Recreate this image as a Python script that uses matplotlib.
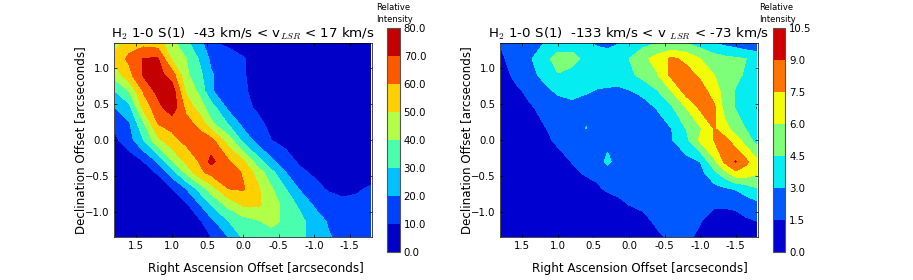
import numpy as np
import matplotlib
matplotlib.use("Agg")
import matplotlib.pyplot as plt

plt.rcParams["font.family"] = ["DejaVu Sans"]
plt.rcParams["mathtext.fontset"] = "cm"

# RA / Dec sample positions, arcseconds
ra_left = [1.8, 1.6, 1.4, 1.2, 1.0, 0.8, 0.6, 0.45, 0.2, 0.0, -0.2, -0.4, -0.6, -0.8, -1.0, -1.2, -1.4, -1.6, -1.8]
dec_left = [1.35, 1.125, 0.9, 0.675, 0.45, 0.225, 0.0, -0.3, -0.45, -0.675, -0.9, -1.125, -1.35]
ra_right = [1.8, 1.6, 1.4, 1.2, 1.0, 0.8, 0.6, 0.45, 0.3, 0.15, 0.0, -0.2, -0.4, -0.6, -0.8, -1.0, -1.2, -1.35, -1.5, -1.65, -1.8]
dec_right = [1.35, 1.125, 0.9, 0.675, 0.45, 0.16, 0.0, -0.3, -0.45, -0.675, -0.9, -1.125, -1.35]

# intensity, one row per declination
flux_left = [
    [45, 56, 56, 54, 43, 32, 23, 10.5, 8, 7, 6, 5.5, 5, 5, 5, 5, 5, 5, 4],
    [54, 62, 70.5, 71, 48, 40, 28, 18, 14, 10.5, 8, 6, 5, 5, 5, 5, 4, 4, 4],
    [44, 57, 71, 74, 65, 42, 32, 21, 15, 10.5, 8, 6, 5, 5, 5, 5, 4, 4, 4],
    [30, 40, 61, 73, 76, 48, 37, 21, 14, 11, 8, 6, 5, 5, 5, 5, 4, 4, 4],
    [20, 27, 53, 66, 77, 57, 44, 35, 17, 12, 9, 7, 6, 5, 5, 4, 4, 4, 4],
    [12, 19, 38, 60, 63, 64, 56, 42, 29, 17, 12, 8, 7, 6, 5, 5, 4, 4, 4],
    [8, 16, 30, 47, 57, 63, 65, 63, 44, 27, 16, 10, 7, 6, 6, 5, 5, 5, 5],
    [0.5, 4, 10, 21, 39, 52, 61, 73, 61, 52, 35, 22, 14, 8.5, 7, 6, 6, 5, 5],
    [0, 1, 5, 11, 25, 42, 58, 63, 65, 59, 46, 33, 20, 12, 8.5, 7, 6, 6, 6],
    [0, 0, 0.5, 3, 9.5, 20, 34, 45, 60, 61, 52, 41, 30, 19, 13, 9, 8, 9, 11],
    [0, 0, 0, 0, 1, 8, 20, 30, 43, 51, 51.5, 46, 36, 28, 19, 14, 12, 12, 14],
    [0, 0, 0, 0, 0, 3, 9, 17, 30, 35, 39, 43, 38, 33, 25, 19, 14, 13, 13],
    [0, 0, 0, 0, 0, 1, 6, 9.5, 20, 31, 33, 35, 35, 32, 27, 21, 17, 15, 14],
]
flux_right = [
    [1.6, 2.1, 2.6, 2.95, 3.5, 3.6, 3.2, 2.8, 2.7, 2.9, 3.4, 4.0, 4.4, 4.4, 4.4, 3.7, 2.9, 2.5, 2.2, 1.7, 1.3],
    [1.3, 2.0, 2.8, 3.9, 5.2, 5.1, 4.0, 3.6, 3.5, 3.8, 4.5, 5.6, 6.6, 7.8, 7.1, 6.0, 5.2, 4.9, 4.7, 4.5, 4.3],
    [0.7, 1.9, 2.6, 3.3, 4.4, 3.9, 3.7, 3.6, 3.6, 3.7, 4.1, 5.0, 5.9, 7.9, 8.2, 7.2, 6.0, 5.3, 4.8, 4.3, 3.9],
    [0.3, 1.1, 1.9, 2.6, 3.2, 3.3, 3.1, 2.9, 2.8, 2.7, 2.9, 3.3, 4.4, 6.0, 8.1, 8.2, 6.8, 5.3, 4.4, 3.7, 3.4],
    [0, 0.5, 1.3, 1.9, 2.4, 2.7, 2.5, 2.4, 2.3, 2.3, 2.3, 2.5, 3.1, 4.3, 6.0, 7.8, 7.7, 5.4, 4.4, 3.6, 2.9],
    [0, 0, 0.5, 1.4, 1.9, 2.1, 3.05, 2.2, 2.1, 2.1, 2.1, 2.1, 2.4, 3.0, 4.5, 5.8, 7.6, 6.5, 5.3, 4.4, 3.3],
    [0, 0, 0.2, 1.1, 1.8, 2.0, 2.0, 2.1, 2.1, 2.1, 2.1, 2.1, 2.3, 2.9, 4.0, 6.3, 7.6, 7.9, 6.6, 5.2, 3.9],
    [0, 0, 0, 0.2, 0.9, 1.55, 1.9, 1.6, 3.7, 1.6, 1.9, 2.0, 2.0, 2.2, 2.5, 3.0, 5.7, 7.8, 9.1, 7.8, 6.3],
    [0, 0, 0, 0, 0.3, 1.2, 1.7, 1.8, 1.6, 2.0, 1.9, 2.0, 2.0, 2.1, 2.2, 2.5, 4.1, 5.5, 7.2, 6.9, 6.2],
    [0, 0, 0, 0, 0, 0.1, 0.9, 1.3, 1.7, 1.8, 1.9, 2.0, 2.0, 2.0, 2.0, 2.1, 2.5, 2.8, 3.1, 3.7, 4.4],
    [0, 0, 0, 0, 0, 0, 0, 0.3, 0.8, 1.2, 1.5, 1.7, 1.8, 1.9, 1.9, 1.8, 1.6, 1.6, 1.7, 2.1, 2.5],
    [0, 0, 0, 0, 0, 0, 0, 0.1, 0.4, 0.6, 0.9, 1.2, 1.7, 1.9, 1.8, 1.55, 1.1, 1.1, 1.1, 1.3, 1.5],
    [0, 0, 0, 0, 0, 0, 0, 0, 0, 0.1, 0.3, 0.6, 1.3, 1.7, 1.7, 1.3, 0.9, 0.8, 0.8, 0.8, 0.9],
]

levels_left = [0, 10, 20, 30, 40, 50, 60, 70, 80]
levels_right = [0, 1.5, 3, 4.5, 6, 7.5, 9, 10.5]
ra_ticks = [1.5, 1.0, 0.5, 0.0, -0.5, -1.0, -1.5]
ra_ticklabels = ["1.5", "1.0", "0.5", "0.0", "-0.5", "-1.0", "-1.5"]
dec_ticks = [1.0, 0.5, 0.0, -0.5, -1.0]
title_left = r"H$_2$ 1-0 S(1)  -43 km/s < v$_{LSR}$ < 17 km/s"
title_right = r"H$_2$ 1-0 S(1)  -133 km/s < v $_{LSR}$ < -73 km/s"

W, H = 913, 280


def px_axes(fig, x0, x1, y0, y1):
    # pixel box, y measured from the top of the image
    return fig.add_axes([x0 / W, 1 - y1 / H, (x1 - x0) / W, (y1 - y0) / H])


def panel(fig, box, cbox, ra, dec, flux, levels, title, title_x, note_x, xlabel_x):
    ax = px_axes(fig, *box)
    cs = ax.contourf(ra, dec, np.array(flux), levels=levels, cmap="jet",
                     vmin=levels[0], vmax=levels[-1])
    ax.set_xlim(1.815, -1.815)
    ax.set_ylim(-1.343, 1.343)
    ax.set_xticks(ra_ticks)
    ax.set_xticklabels(ra_ticklabels)
    ax.set_yticks(dec_ticks)
    ax.tick_params(labelsize=7.3, direction="in", length=2, width=0.5, pad=3,
                   top=True, right=True, colors="black")
    for s in ax.spines.values():
        s.set_linewidth(0.5)
    ax.set_xlabel("Right Ascension Offset [arcseconds]", fontsize=8.6, labelpad=8,
                  x=(xlabel_x - box[0]) / (box[1] - box[0]))
    ax.set_ylabel("Declination Offset [arcseconds]", fontsize=8.6, labelpad=-1.5)
    fig.text(title_x / W, 1 - 42.5 / H, title, fontsize=9.65, ha="left", va="bottom")

    cax = px_axes(fig, *cbox)
    cb = fig.colorbar(cs, cax=cax, ticks=levels, format="%.1f")
    cb.outline.set_edgecolor("#555555")
    cb.outline.set_linewidth(0.8)
    cax.tick_params(labelsize=7.3, length=0, pad=3)
    fig.text(note_x / W, 1 - 13.5 / H, "Relative\nIntensity", fontsize=6, ha="left",
             va="center", linespacing=1.4)


def main():
    fig = plt.figure(figsize=(W / 100, H / 100), dpi=100)
    panel(fig, (114, 372, 43, 237), (387, 399.5, 28, 252), ra_left, dec_left,
          flux_left, levels_left, title_left, 111, 376, 256)
    panel(fig, (500, 758, 43, 237), (773, 785, 28, 252), ra_right, dec_right,
          flux_right, levels_right, title_right, 488, 759, 640)
    fig.savefig("out.png", dpi=100)


if __name__ == "__main__":
    main()
